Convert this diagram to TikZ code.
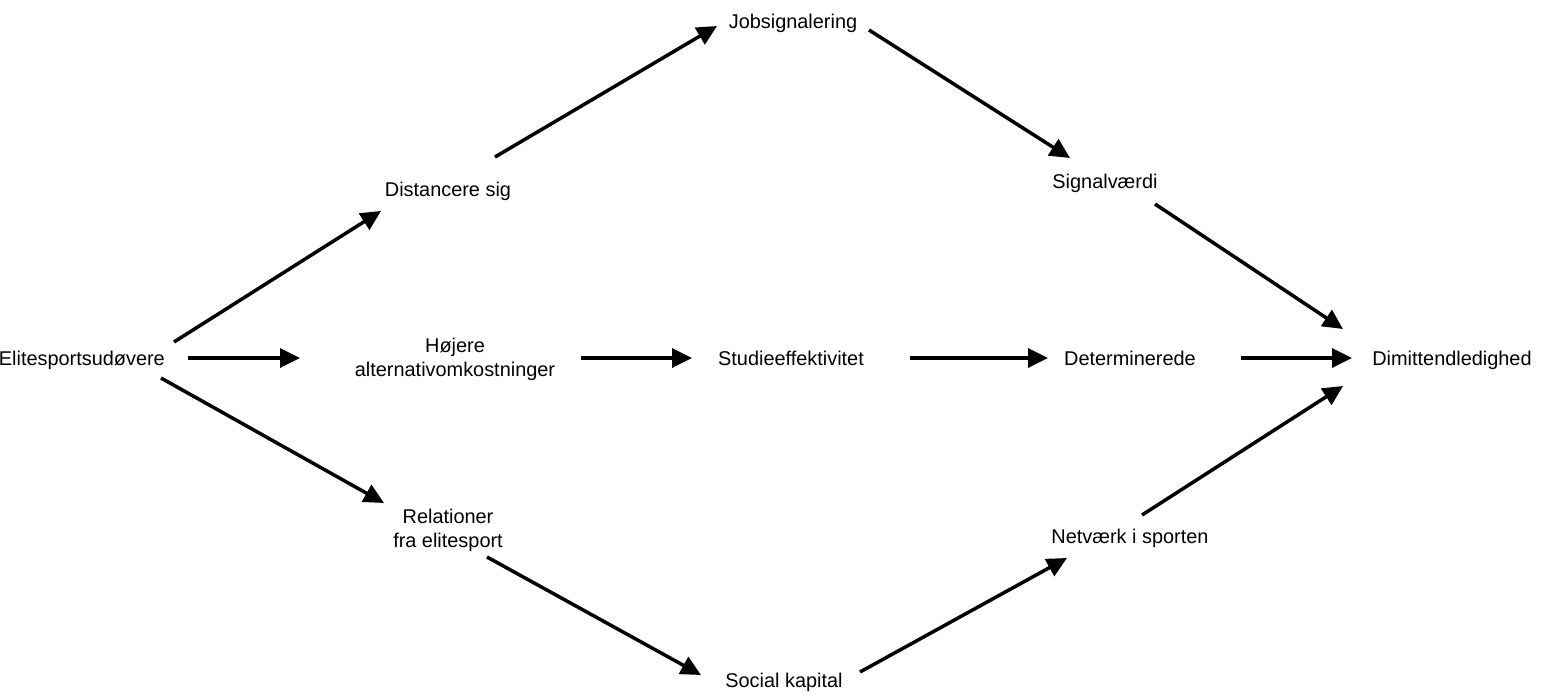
\documentclass[tikz,border=0pt]{standalone}
\usepackage{fontspec}
\setmainfont{Liberation Sans}
\usepackage{tikz}
\usetikzlibrary{arrows.meta}

\begin{document}
\begin{tikzpicture}[x=1pt,y=-1pt,
  lbl/.style={inner sep=0pt,anchor=base,font=\fontsize{19.9}{24}\selectfont,align=center},
  flow/.style={line width=3.5pt,-{Triangle[length=20pt,width=19pt]}}]
\useasboundingbox (0,0) rectangle (1543,696);
\node[lbl,anchor=base east] (elite) at (165,365) {Elitesportsud\o vere};
\node[lbl] (dist) at (448,196) {Distancere sig};
\node[lbl] (job) at (793,28) {Jobsignalering};
\node[lbl] (signal) at (1105,188) {Signalv\ae rdi};
\node[lbl] (hoej) at (455,376) {H\o jere\\alternativomkostninger};
\node[lbl] (studie) at (791,365) {Studieeffektivitet};
\node[lbl] (determ) at (1130,365) {Determinerede};
\node[lbl] (dimit) at (1452,365) {Dimittendledighed};
\node[lbl] (rel) at (448,547) {Relationer\\fra elitesport};
\node[lbl] (social) at (784,687) {Social kapital};
\node[lbl] (netv) at (1130,543) {Netv\ae rk i sporten};
\draw[flow] ([shift={(9,-23)}]elite.base east) -- ([shift={(-67,15)}]dist.base);
\draw[flow] ([shift={(23,-7)}]elite.base east) -- ([shift={(-155,-18)}]hoej.base);
\draw[flow] ([shift={(-4,13)}]elite.base east) -- ([shift={(-64,-44)}]rel.base);
\draw[flow] ([shift={(47,-39)}]dist.base) -- ([shift={(-76,-2)}]job.base);
\draw[flow] ([shift={(76,2)}]job.base) -- ([shift={(-35,-30)}]signal.base);
\draw[flow] ([shift={(50,16)}]signal.base) -- ([shift={(-109,-36)}]dimit.base);
\draw[flow] ([shift={(126,-18)}]hoej.base) -- ([shift={(-99,-7)}]studie.base);
\draw[flow] ([shift={(119,-7)}]studie.base) -- ([shift={(-82,-7)}]determ.base);
\draw[flow] ([shift={(111,-7)}]determ.base) -- ([shift={(-100,-7)}]dimit.base);
\draw[flow] ([shift={(39,10)}]rel.base) -- ([shift={(-83,-12)}]social.base);
\draw[flow] ([shift={(76,-15)}]social.base) -- ([shift={(-63,15)}]netv.base);
\draw[flow] ([shift={(12,-28)}]netv.base) -- ([shift={(-109,21)}]dimit.base);
\end{tikzpicture}
\end{document}
